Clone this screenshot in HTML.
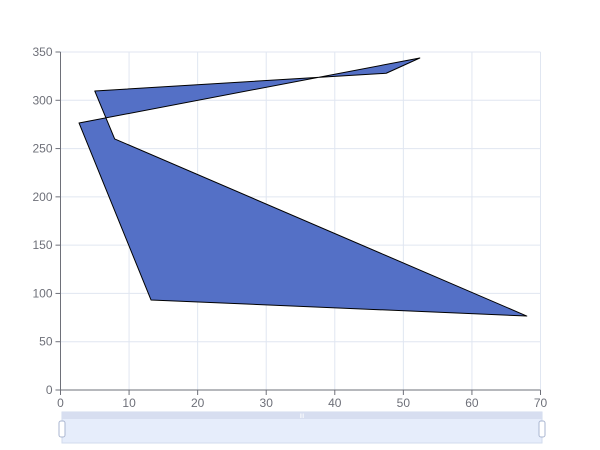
<!DOCTYPE html>
<html><head><meta charset="utf-8"><style>
body{margin:0;background:#fff;}
svg{display:block;font-family:"Liberation Sans",sans-serif;}
</style></head><body>
<svg id="c" width="600" height="450"></svg>
<script>
const xVals=[2.7,52.4,47.5,5.0,7.9,68.0,13.2];
const yVals=[276.5,343.8,328,309.6,260,76.6,93.2];
const xTicks=[0,10,20,30,40,50,60,70];
const yTicks=[0,50,100,150,200,250,300,350];
const NS="http://www.w3.org/2000/svg";
const svg=document.getElementById('c');
const X0=60.5,X1=540.5,Y0=390,Y1=52;
const sx=v=>X0+(v/70)*(X1-X0);
const sy=v=>Y0-(v/350)*(Y0-Y1);
function mk(t,a,p){const e=document.createElementNS(NS,t);for(const k in a)e.setAttribute(k,a[k]);(p||svg).appendChild(e);return e;}
const grid=mk('g',{});


xTicks.forEach(t=>{if(t>0)mk('line',{x1:sx(t),x2:sx(t),y1:Y1,y2:Y0,stroke:'#e0e6f1'},grid);});
yTicks.forEach(t=>{if(t>0)mk('line',{x1:X0,x2:X1,y1:sy(t),y2:sy(t),stroke:'#e0e6f1'},grid);});
const poly=mk('polygon',{points:xVals.map((x,i)=>sx(x)+','+sy(yVals[i])).join(' '),fill:'#5470c6',stroke:'#000','stroke-width':1,'stroke-linejoin':'round'});


const ax=mk('g',{});


mk('line',{x1:X0,x2:X1,y1:Y0,y2:Y0,stroke:'#6e7079'},ax);
mk('line',{x1:X0,x2:X0,y1:Y1,y2:Y0,stroke:'#6e7079'},ax);
xTicks.forEach(t=>{mk('line',{x1:sx(t),x2:sx(t),y1:Y0,y2:Y0+5,stroke:'#6e7079'},ax);
 const tx=mk('text',{x:sx(t),y:Y0+17,'text-anchor':'middle','font-size':12,fill:'#6e7079'},ax);tx.textContent=t;
 
 });
yTicks.forEach(t=>{mk('line',{x1:X0-5,x2:X0,y1:sy(t),y2:sy(t),stroke:'#6e7079'},ax);
 const tx=mk('text',{x:X0-8,y:sy(t)+4,'text-anchor':'end','font-size':12,fill:'#6e7079'},ax);tx.textContent=t;
 
 });
const dz=mk('g',{});


mk('rect',{x:62,y:412,width:480,height:31,fill:'#e6edfb',stroke:'#d2dbee'},dz);
mk('rect',{x:62,y:412,width:480,height:7,fill:'#d7def0'},dz);
mk('text',{x:302,y:418,'text-anchor':'middle','font-size':6,fill:'#fff'},dz).textContent='III';
[62,542].forEach(x=>{const h=mk('rect',{x:x-3,y:421,width:6,height:16,rx:2,fill:'#fff',stroke:'#aab6d0'},dz);
 
 });
</script>
</body></html>
